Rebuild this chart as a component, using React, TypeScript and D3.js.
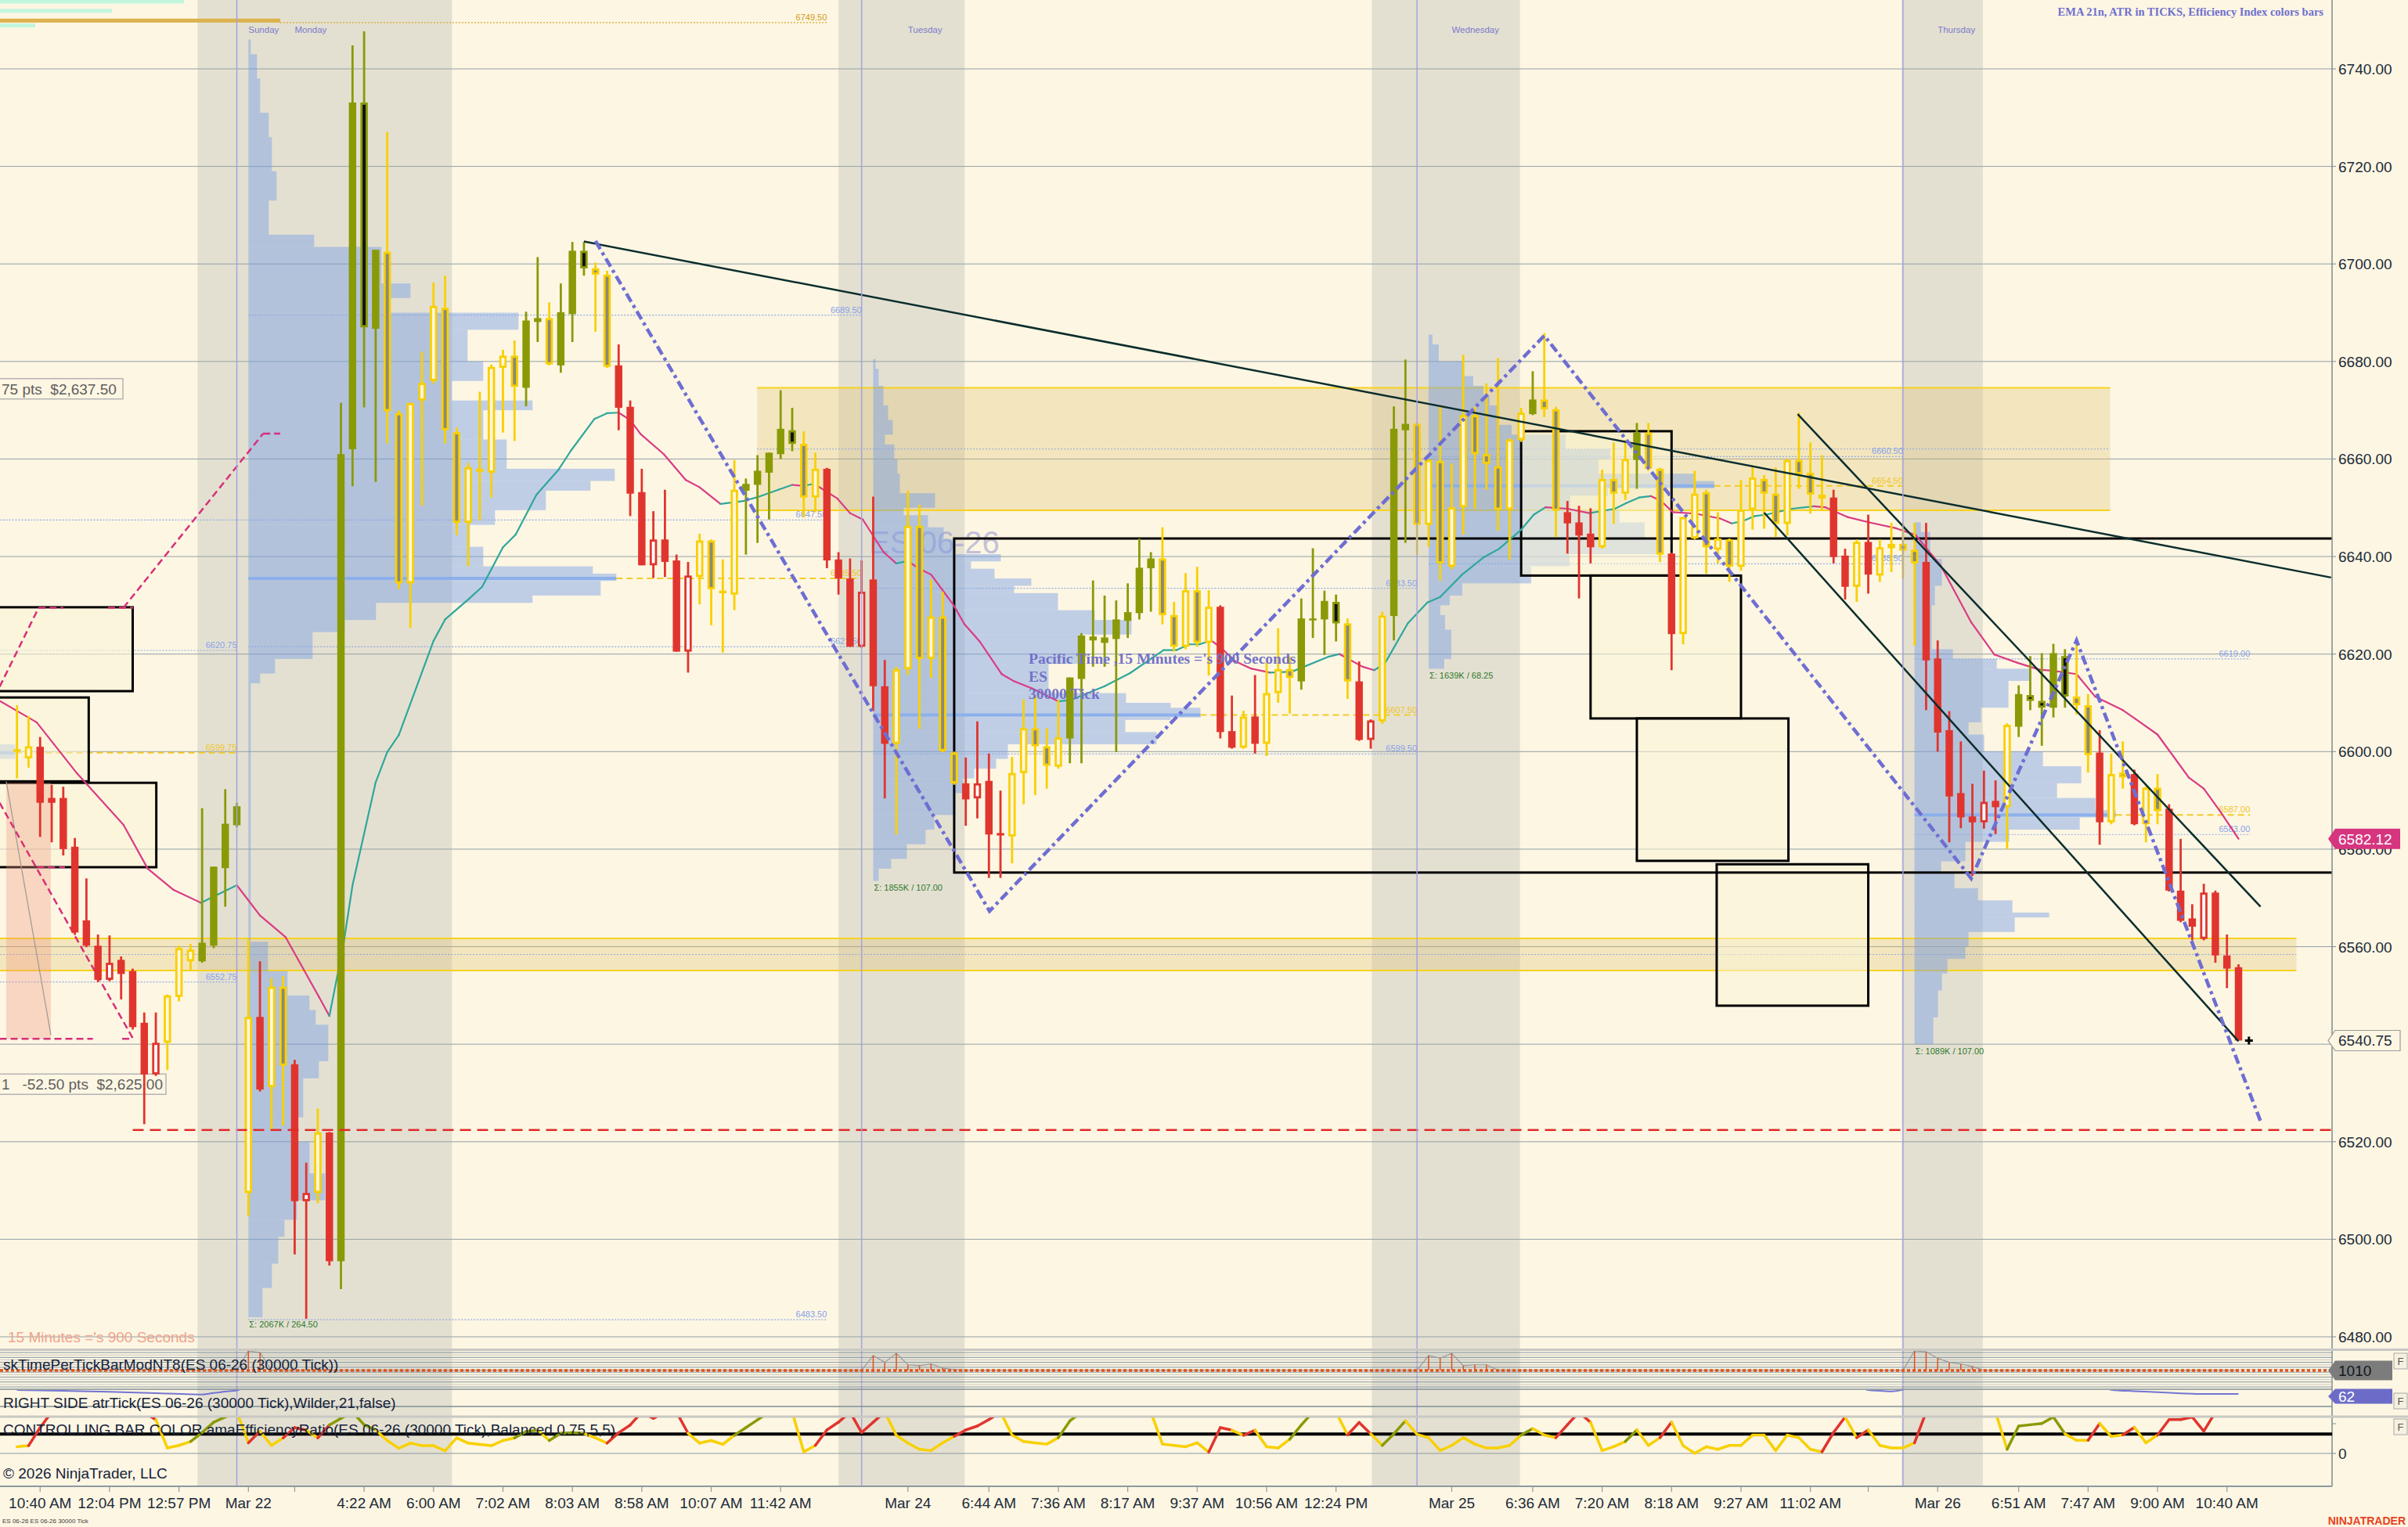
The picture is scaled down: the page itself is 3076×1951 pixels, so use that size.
import React, { useEffect, useRef } from 'react';
import * as d3 from 'd3';

const WIDTH = 3076;
const HEIGHT = 1951;
const SANS = '"Liberation Sans", Arial, sans-serif';
const SERIF = '"Liberation Serif", "Times New Roman", serif';

// ES 06-26, 30000 tick bars: [open, high, low, close]
const ohlc = [
  [6600, 6609.5, 6594.5, 6600.5], [6598.6, 6607.3, 6596.7, 6601.1], [6601, 6603, 6582.5, 6589.5], [6590.5, 6593.2, 6581.4, 6589.5], [6590.5, 6592.8, 6578.7, 6580],
  [6580.5, 6582.3, 6562.4, 6562.9], [6565.4, 6574, 6559.9, 6560.2], [6560.2, 6562.5, 6552.7, 6553.2], [6553.2, 6562.3, 6552.9, 6556.7], [6557.3, 6558, 6549.2, 6554.4],
  [6555, 6555.5, 6543, 6543.5], [6544.4, 6546.5, 6523.6, 6533.8], [6533.8, 6546.5, 6533.5, 6540.3], [6540.3, 6550.2, 6534.7, 6550], [6549.7, 6560.2, 6548.8, 6559.7],
  [6557, 6560.6, 6555, 6559.4], [6557, 6588.4, 6556.7, 6560.8], [6560.2, 6576.4, 6559.7, 6576.4], [6576.1, 6592.3, 6568.2, 6585.2], [6584.9, 6589.5, 6584.5, 6588.8],
  [6509.5, 6561.5, 6504.8, 6545.6], [6545.6, 6557, 6530.3, 6530.7], [6531.2, 6553.6, 6522.4, 6551.8], [6551.8, 6554, 6523.3, 6535.6], [6535.9, 6536.8, 6496.9, 6507.8],
  [6507.8, 6515.7, 6483.7, 6509.5], [6509.5, 6526.8, 6507.4, 6521.9], [6521.9, 6522, 6494.6, 6495.5], [6495.5, 6671.5, 6489.8, 6661], [6662, 6744.8, 6654.4, 6733.1],
  [6733.1, 6747.7, 6670.6, 6687], [6686.7, 6702.9, 6655.3, 6702.9], [6702.5, 6727.1, 6663.2, 6669.8], [6669.4, 6670, 6633.3, 6634.5], [6634.5, 6671.5, 6625.4, 6671.5],
  [6672, 6682, 6650.4, 6675.6], [6676, 6696.2, 6675.5, 6691.4], [6691, 6697.6, 6663.2, 6665.9], [6665.5, 6666.5, 6644.4, 6646.9], [6646.9, 6659.2, 6638, 6658.3],
  [6657.4, 6673.8, 6647.4, 6658], [6657.2, 6679.4, 6652.1, 6678.9], [6678.7, 6682.4, 6665.4, 6681.2], [6681.2, 6684.3, 6663.7, 6674.8], [6674.6, 6690.2, 6670.8, 6688.4],
  [6688.1, 6701.4, 6684, 6688.9], [6688.9, 6692.1, 6679.2, 6679.4], [6679.2, 6696, 6677.7, 6690.1], [6689.7, 6704.5, 6684, 6702.7], [6702.7, 6704.5, 6697.6, 6699.1],
  [6699.1, 6700.3, 6686.1, 6697.8], [6697.8, 6698.6, 6678.7, 6678.9], [6679.2, 6683.5, 6665.9, 6670.5], [6670.7, 6672, 6648.3, 6652.9], [6653.2, 6658, 6638.2, 6638.2],
  [6638.2, 6649.3, 6635.6, 6643.5], [6643.5, 6653.7, 6635.8, 6638.9], [6639.2, 6640.4, 6620.5, 6620.5], [6620.5, 6638.9, 6616.2, 6636.1], [6635.8, 6644.7, 6630.2, 6643.3],
  [6643.3, 6643.5, 6625.9, 6633.3], [6633, 6639.4, 6620.3, 6632.6], [6632.2, 6659.8, 6629, 6653.7], [6653.5, 6656, 6640.4, 6654.9], [6654.7, 6660.8, 6642.8, 6657.6],
  [6657.2, 6661.3, 6647.6, 6661.3], [6661, 6674.1, 6660, 6666.2], [6665.9, 6670.5, 6661.6, 6663.1], [6663.1, 6665.7, 6648.1, 6652.1], [6652.1, 6661.3, 6649.1, 6658],
  [6658, 6658.2, 6637.6, 6639.2], [6639.4, 6640.9, 6632.2, 6635.5], [6635.5, 6639.6, 6621.5, 6621.5], [6621.5, 6639.2, 6621.3, 6632.8], [6635.3, 6652.3, 6608.3, 6613.4],
  [6613.4, 6618.8, 6590.4, 6601.6], [6601.6, 6617.4, 6583, 6616.9], [6616.9, 6653.5, 6615.7, 6646.3], [6646.3, 6650.6, 6604.7, 6619], [6619, 6635.3, 6615.1, 6627.7],
  [6627.7, 6632.8, 6599.9, 6600.1], [6599.8, 6600, 6593.2, 6593.5], [6593.5, 6598.8, 6584.8, 6590.2], [6590.4, 6606.2, 6586.3, 6593.5], [6594, 6599.6, 6574.1, 6583],
  [6583.3, 6592, 6574.1, 6582.8], [6582.6, 6598.9, 6577.1, 6595.6], [6595.6, 6610.7, 6589.2, 6604.8], [6604.8, 6611.5, 6591.1, 6601.1], [6601.1, 6604.8, 6592.4, 6597.1],
  [6596.9, 6610.6, 6596.5, 6602.9], [6602.7, 6615.2, 6597.6, 6615.2], [6614.9, 6624.3, 6597.6, 6623.8], [6623.6, 6635.1, 6617.4, 6622.8], [6622.3, 6632, 6617.4, 6623.4],
  [6623.1, 6631, 6599.9, 6627.1], [6626.8, 6634.5, 6623.3, 6628.6], [6628.4, 6643.7, 6627.1, 6637.7], [6637.6, 6640.9, 6628.7, 6639.6], [6639.6, 6646, 6626.1, 6628],
  [6628, 6630.7, 6620.5, 6621.5], [6621.5, 6636.6, 6621, 6633.1], [6633.1, 6637.9, 6621.5, 6622.3], [6622.3, 6633.1, 6615.6, 6629.7], [6629.7, 6630, 6602.7, 6604],
  [6604.2, 6611.5, 6600.6, 6600.8], [6600.8, 6608.4, 6600.6, 6607.2], [6607.2, 6615.7, 6599.6, 6601.6], [6601.6, 6618.5, 6599.1, 6612], [6612, 6625.3, 6610, 6616.9],
  [6616.9, 6619.5, 6607.8, 6615.1], [6614.4, 6631.4, 6612.7, 6627.3], [6626.9, 6641.7, 6623.3, 6627.3], [6627.1, 6633, 6619.8, 6630.9], [6630.7, 6632.2, 6622.6, 6626.3],
  [6626.3, 6627.3, 6610.8, 6614.4], [6614.4, 6618.5, 6602.2, 6602.4], [6602.4, 6606.6, 6600.6, 6606.4], [6606.2, 6628.7, 6605.7, 6627.9], [6627.8, 6670.8, 6622.8, 6666.2],
  [6665.9, 6680.4, 6642.8, 6667.2], [6667.2, 6667.5, 6640.4, 6646.5], [6646.5, 6660, 6642, 6659.8], [6659.6, 6670.7, 6635.1, 6638.6], [6637.9, 6659.1, 6637.4, 6650.1],
  [6650.1, 6681.4, 6644.5, 6669], [6669, 6670.7, 6649.8, 6661], [6661, 6675.5, 6653.7, 6659], [6658.5, 6680.7, 6645.3, 6649.6], [6649.6, 6664.2, 6639.4, 6664],
  [6663.9, 6670.5, 6663.5, 6669.5], [6669.2, 6678, 6669, 6672.2], [6672.2, 6685.8, 6668.6, 6670.2], [6670.2, 6670.7, 6644, 6649.4], [6649.1, 6651.4, 6640.6, 6646.8],
  [6647, 6650.4, 6631.4, 6644.3], [6644.7, 6649.9, 6638.6, 6641.9], [6641.9, 6657.8, 6641.6, 6655.9], [6655.9, 6663.4, 6646.7, 6652.9], [6652.9, 6663.9, 6651.6, 6660],
  [6659.8, 6667.4, 6653.9, 6665.4], [6665.4, 6667.4, 6657.6, 6658], [6658, 6658.2, 6638.9, 6640.4], [6640.6, 6640.8, 6616.7, 6624.1], [6624.1, 6648.1, 6622, 6648.1],
  [6643.7, 6657.6, 6643.5, 6652.9], [6653.2, 6653.7, 6636.5, 6641.9], [6641.4, 6649.1, 6638.6, 6643.7], [6643.5, 6643.7, 6634.8, 6637.9], [6637.9, 6655.7, 6637.1, 6649.6],
  [6649.6, 6658.3, 6645.5, 6656.2], [6655.9, 6656.7, 6645.7, 6652.9], [6652.9, 6658.3, 6644, 6646.7], [6646.7, 6660, 6644.3, 6659.8], [6659.8, 6669.5, 6653.9, 6656.9],
  [6657.2, 6663.4, 6648.8, 6652.7], [6652.7, 6660.8, 6649.4, 6651.9], [6652.1, 6653.7, 6638.6, 6639.9], [6640.2, 6641.6, 6631.2, 6633.8], [6633.8, 6643.5, 6630.7, 6643],
  [6643, 6648.6, 6632.4, 6636.3], [6636.1, 6643.5, 6634.8, 6641.9], [6641.7, 6646.9, 6636.8, 6642.6], [6642.6, 6646.9, 6635.5, 6641.2], [6641.4, 6646.9, 6621.7, 6638.6],
  [6638.9, 6646.9, 6608.5, 6618.7], [6619.1, 6622.8, 6600, 6603.9], [6604.4, 6608.3, 6581.4, 6590.8], [6591.5, 6602.1, 6584.3, 6586.5], [6586.7, 6593.4, 6574.5, 6585.5],
  [6585.5, 6596.1, 6584.2, 6589.7], [6589.9, 6594.1, 6583.1, 6588.6], [6588.6, 6605.8, 6580, 6605.5], [6605.1, 6613.6, 6603, 6611.8], [6611.6, 6619.6, 6608.5, 6610.4],
  [6610.4, 6620.2, 6601.2, 6609], [6609, 6622.1, 6607, 6620.2], [6619.6, 6621, 6609, 6611.3], [6611.3, 6622.1, 6607.6, 6609.5], [6609.5, 6611.8, 6595.7, 6599.3],
  [6599.8, 6604.4, 6580.9, 6585.5], [6585.5, 6599.6, 6585.1, 6595.4], [6595.7, 6602.1, 6592.4, 6594.7], [6595.4, 6596.3, 6584.9, 6585.1], [6585.1, 6592.9, 6581.4, 6592.6],
  [6592.6, 6595.4, 6585.1, 6587.8], [6588.3, 6589.2, 6571.3, 6571.5], [6571.5, 6582.1, 6565, 6565.3], [6565.8, 6568.7, 6561.3, 6564.1], [6561.6, 6572.9, 6561.3, 6571.1],
  [6571.1, 6571.5, 6556.7, 6558.2], [6558.2, 6562.5, 6551.5, 6555.5], [6555.8, 6556.4, 6540.9, 6540.75],
];

// efficiency index colour per bar: y = inefficient, g = efficient up, r = efficient down
const barColors = (
  'yyrrrrrrrr' + 'rrryyygggg' + 'yryyrryrgg' + 'ggyyyyyyyy' + 'yyyyggyggg' +
  'yyrrrrrrry' + 'yyygggggyy' + 'rrrrrryyyy' + 'yyrrrryyyy' + 'yggggggggy' +
  'yyyyrryryy' + 'yggggyrryg' + 'gyyyyyyyyy' + 'ygyyrrryyy' + 'gyyryyyyyy' +
  'yyyyyyyrry' + 'ryyyyrrrrr' + 'rrygggggyy' + 'ryyryyrrrr' + 'rrr'
).split('');

// amaEfficiencyRatio (panel values)
const effRatio = [
  0.26, 0.3, 1.0, 1.6, 1.6, 1.6, 1.6, 1.6, 1.6, 1.6,
  1.6, 1.6, 1.3, 0.21, 0.31, 0.46, 0.81, 1.21, 1.41, 1.6,
  0.41, 0.86, 0.31, 0.6, 1.0, 0.9, 0.6, 1.1, 1.36, 1.6,
  1.11, 0.91, 0.5, 0.2, 0.4, 0.3, 0.3, 0.1, 0.6, 0.4,
  0.35, 0.3, 0.5, 0.6, 0.85, 0.9, 0.5, 0.78, 0.8, 0.78,
  0.6, 0.4, 0.8, 1.1, 1.6, 1.36, 1.6, 1.6, 0.78, 0.4,
  0.5, 0.35, 0.7, 1.0, 1.3, 1.6, 1.6, 1.6, 0.06, 0.31,
  0.91, 1.21, 1.6, 0.81, 1.21, 1.6, 0.7, 0.4, 0.16, 0.11,
  0.41, 0.66, 0.91, 1.06, 1.31, 1.6, 0.71, 0.46, 0.41, 0.36,
  0.61, 1.26, 1.6, 1.6, 1.6, 1.6, 1.6, 1.6, 1.6, 0.36,
  0.31, 0.26, 0.41, 0.05, 1.0, 0.9, 0.7, 0.9, 0.26, 0.21,
  0.55, 1.1, 1.6, 1.6, 1.6, 0.72, 1.2, 0.76, 0.31, 0.76,
  1.26, 0.74, 0.61, 0.11, 0.31, 0.61, 0.36, 0.21, 0.21, 0.31,
  0.71, 0.96, 0.71, 0.61, 1.11, 1.6, 1.2, 0.11, 0.26, 0.46,
  0.91, 0.31, 0.61, 1.21, 0.3, 0.01, 0.26, 0.16, 0.31, 0.31,
  0.71, 0.71, 0.11, 0.71, 0.61, 0.16, 0.06, 0.81, 1.41, 0.61,
  0.91, 0.31, 0.21, 0.21, 0.41, 1.6, 1.6, 1.6, 1.6, 1.6,
  1.6, 1.6, 0.16, 1.06, 1.11, 1.16, 1.41, 0.76, 0.51, 0.51,
  1.16, 0.66, 0.72, 1.01, 0.41, 0.71, 1.31, 1.31, 1.41, 0.86,
  1.6, 1.6, 1.6,
];

// EMA 21, read at [bar, price]
const emaPoints = [
  [-0.5, 6610.4], [2.7, 6606], [6.2, 6595.5], [10.2, 6585], [12.3, 6576], [14.5, 6571.7], [16.9, 6569], [20, 6572.6],
  [22, 6566.4], [24.2, 6562], [27.1, 6549.7], [28, 6545.8], [29.2, 6560.2], [30, 6572.6], [32, 6593.7], [33, 6599.9],
  [34, 6603.4], [37, 6622.7], [38, 6627.1], [40.1, 6631.4], [41.2, 6633.8], [43, 6641.9], [44.1, 6644.5], [45.9, 6652.7],
  [47.8, 6657.8], [48.9, 6661.8], [50.9, 6668.2], [52, 6669.4], [53, 6669.5], [54, 6668], [54.9, 6665.1], [56.9, 6661],
  [58.8, 6655.7], [60, 6654.2], [61.8, 6650.8], [63.8, 6651.4], [64.9, 6652.1], [66.8, 6653.7], [68, 6654.7], [68.9, 6654.5],
  [69.9, 6654.9], [71.9, 6651.9], [73, 6648.9], [74.1, 6647.6], [75.9, 6640.9], [77, 6638.6], [78, 6639.1], [78.9, 6637.6],
  [80, 6636.3], [81.9, 6630.2], [82.9, 6626.1], [84.2, 6622.6], [86.1, 6615.9], [87.2, 6614.4], [88.8, 6612.9], [91, 6610.3],
  [92.1, 6610.6], [95, 6613.4], [97.2, 6616.1], [100.1, 6620.8], [101.2, 6620.8], [102.3, 6622], [103.2, 6622], [104.2, 6622.8],
  [105.2, 6621], [106.3, 6618.5], [107.7, 6617], [109.3, 6616.2], [111.2, 6616.4], [114.4, 6619.5], [115.3, 6620], [117.3, 6617.4],
  [118.3, 6616.7], [119.2, 6618], [121.2, 6626.3], [122.9, 6630.6], [124, 6631.7], [125.9, 6636.3], [127.8, 6639.9], [129.1, 6641.6],
  [131, 6645.5], [132.1, 6648.6], [133.1, 6650.1], [135, 6649.8], [136.9, 6648.9], [139.1, 6649.8], [140.2, 6651.1], [141.2, 6652.1],
  [142.2, 6652.4], [143.1, 6651.4], [144.1, 6649.1], [146.1, 6648.8], [148.2, 6647.8], [149.2, 6646.8], [150.2, 6647.3], [151.2, 6648.3],
  [152.2, 6648.6], [154.4, 6649.8], [156.3, 6650.3], [157.3, 6650.1], [159.2, 6648.1], [161.1, 6647], [163.4, 6645.8], [165.1, 6644.4],
  [167.3, 6638], [169.9, 6626.5], [171.9, 6619.9], [173.9, 6618.2], [175.8, 6616.8], [176.9, 6616.6], [179, 6615.9], [180.6, 6611.3],
  [183, 6608.5], [184.1, 6606.7], [186, 6603.5], [188.7, 6594.7], [190, 6592.4], [191.4, 6587.8], [193, 6582.12],
];

const priceTicks = [6480, 6500, 6520, 6540, 6560, 6580, 6600, 6620, 6640, 6660, 6680, 6700, 6720, 6740];

const timeTicks = [
  [3, '10:40 AM'], [9, '12:04 PM'], [15, '12:57 PM'], [21, 'Mar 22'], [25, ''], [31, '4:22 AM'], [37, '6:00 AM'],
  [43, '7:02 AM'], [49, '8:03 AM'], [55, '8:58 AM'], [61, '10:07 AM'], [67, '11:42 AM'], [78, 'Mar 24'], [85, '6:44 AM'],
  [91, '7:36 AM'], [97, '8:17 AM'], [103, '9:37 AM'], [109, '10:56 AM'], [115, '12:24 PM'], [125, 'Mar 25'], [132, '6:36 AM'],
  [138, '7:20 AM'], [144, '8:18 AM'], [150, '9:27 AM'], [156, '11:02 AM'], [161, ''], [167, 'Mar 26'], [174, '6:51 AM'],
  [180, '7:47 AM'], [186, '9:00 AM'], [192, '10:40 AM'],
];

const sessionBands = [[16.6, 38.6], [72, 82.9], [118.1, 130.9], [163.9, 170.9]];
const sessionBreaks = [20, 74, 122, 164];
const dayLabels = [[21, 'Sunday'], [25, 'Monday'], [78, 'Tuesday'], [125, 'Wednesday'], [167, 'Thursday']];

// volume profiles: [low, high, volume]
const profFri = [[6598.5, 6601.5, 20]];
const profMon = [
  [6743, 6746, 3], [6738, 6743, 11], [6731, 6738, 15], [6726, 6731, 26], [6719, 6726, 30], [6713, 6719, 36], [6706, 6713, 26],
  [6703.5, 6706, 84], [6696, 6703.5, 170], [6693, 6696, 207], [6690, 6693, 175], [6686.5, 6690, 345], [6680, 6686.5, 280],
  [6676, 6680, 300], [6672, 6676, 260], [6670, 6672, 363], [6664, 6670, 300], [6658, 6664, 330], [6655.5, 6658, 468],
  [6653.5, 6655.5, 437], [6649.5, 6653.5, 380], [6646.5, 6649.5, 315], [6642, 6646.5, 283], [6638, 6642, 300], [6636.5, 6638, 440],
  [6635, 6636.5, 470], [6632, 6635, 450], [6630.5, 6632, 363], [6627, 6630.5, 163], [6624.5, 6627, 123], [6619, 6624.5, 82],
  [6616, 6619, 34], [6614, 6616, 15], [6561, 6614, 3], [6555, 6561, 25], [6550, 6555, 50], [6547, 6550, 78], [6544, 6547, 86],
  [6536.5, 6544, 102], [6533, 6536.5, 90], [6525, 6533, 70], [6520, 6525, 58], [6513.5, 6520, 78], [6508, 6513.5, 98],
  [6504, 6508, 62], [6500.5, 6504, 46], [6495, 6500.5, 38], [6490, 6495, 30], [6484, 6490, 18],
];
const profTue = [
  [6678.5, 6680.5, 3], [6675, 6678.5, 7], [6671, 6675, 13], [6668, 6671, 19], [6665, 6668, 25], [6663, 6665, 15], [6660, 6663, 27],
  [6657, 6660, 31], [6653, 6657, 34], [6650, 6653, 79], [6648.5, 6650, 39], [6646, 6648.5, 70], [6643.5, 6646, 90], [6640.5, 6643.5, 105],
  [6639, 6640.5, 163], [6637.5, 6639, 125], [6635.5, 6637.5, 155], [6634, 6635.5, 202], [6632.5, 6634, 180], [6629, 6632.5, 236],
  [6627, 6629, 283], [6624, 6627, 330], [6618, 6624, 265], [6612, 6618, 224], [6610, 6612, 323], [6609, 6610, 380], [6607, 6609, 418],
  [6606.5, 6607, 380], [6604, 6606.5, 322], [6601.5, 6604, 362], [6598.5, 6601.5, 172], [6596.5, 6598.5, 157], [6594.5, 6596.5, 129],
  [6591.5, 6594.5, 115], [6587, 6591.5, 105], [6584, 6587, 78], [6581, 6584, 67], [6578, 6581, 43], [6576, 6578, 23], [6573.5, 6576, 7],
];
const profWed = [
  [6683.5, 6685.5, 5], [6680, 6683.5, 13], [6677, 6680, 45], [6675, 6677, 57], [6673, 6675, 70], [6671, 6673, 78], [6667, 6671, 90],
  [6665, 6667, 106], [6662, 6665, 175], [6660, 6662, 232], [6657, 6660, 217], [6655.5, 6657, 339], [6654, 6655.5, 365],
  [6652.5, 6654, 229], [6649.5, 6652.5, 181], [6647, 6649.5, 244], [6643.5, 6647, 276], [6640.5, 6643.5, 300], [6638, 6640.5, 180],
  [6634.5, 6638, 131], [6632, 6634.5, 43], [6630, 6632, 27], [6628, 6630, 15], [6625, 6628, 21], [6622, 6625, 29], [6619, 6622, 29],
  [6617, 6619, 20],
];
const profThu = [
  [6645, 6647, 8], [6639.5, 6645, 20], [6634, 6639.5, 35], [6630, 6634, 26], [6621, 6630, 22], [6619, 6621, 49], [6617, 6619, 105],
  [6614.5, 6617, 148], [6609, 6614.5, 120], [6606, 6609, 85], [6603.5, 6606, 69], [6600, 6603.5, 89], [6597, 6600, 164],
  [6593.5, 6597, 213], [6590.5, 6593.5, 182], [6588, 6590.5, 231], [6586.5, 6588, 257], [6584, 6586.5, 211], [6581.5, 6584, 121],
  [6577.5, 6581.5, 65], [6575, 6577.5, 34], [6572, 6575, 51], [6569.5, 6572, 81], [6567, 6569.5, 125], [6566, 6567, 172],
  [6563, 6566, 128], [6560, 6563, 69], [6557.5, 6560, 65], [6554.5, 6557.5, 42], [6551, 6554.5, 35], [6545.5, 6551, 30], [6540, 6545.5, 24],
];

const sessions = [
  { start: -0.5, end: 20, vah: 6620.75, poc: 6599.75, val: 6552.75, pocVol: 20, profile: profFri, sigma: '' },
  { start: 21, end: 74, vah: 6689.5, poc: 6635.5, val: 6621.5, pocVol: 470, profile: profMon, sigma: 'Σ: 2067K / 264.50' },
  { start: 75, end: 122, vah: 6633.5, poc: 6607.5, val: 6599.5, pocVol: 418, profile: profTue, sigma: 'Σ: 1855K / 107.00' },
  { start: 123, end: 164, vah: 6660.5, poc: 6654.5, val: 6638.5, pocVol: 365, profile: profWed, sigma: 'Σ: 1639K / 68.25' },
  { start: 165, end: 194, vah: 6619, poc: 6587, val: 6583, pocVol: 257, profile: profThu, sigma: 'Σ: 1089K / 107.00' },
];

// session extremes with labels: [price, fromBar, toBar, kind]
const extraLevels = [[6749.5, 23.75, 71, 'gold'], [6647.5, -0.5, 71, 'blue'], [6483.5, 21, 71, 'blue']];
// older profile rows at the very top: [low, high, volume, kind]
const topRows = [[6753.4, 6754.3, 235, 'mint'], [6751.5, 6752.3, 143, 'mint'], [6749.5, 6750.3, 358, 'gold'], [6748.5, 6749.3, 45, 'mint']];

// supply / demand zones: [fromBar, toBar, low, high]
const zones = [[64.96, 181.9, 6649.5, 6674.6], [-1, 198, 6555.1, 6561.7]];
// drawn rectangles: [fromBar, toBar, low, high]
const boxes = [
  [-1, 11.0, 6612.4, 6629.6], [-1, 7.2, 6593.9, 6611.1], [-1, 13.04, 6576.3, 6593.6],
  [131.0, 144.0, 6636.1, 6665.7], [137.0, 150.0, 6606.8, 6636.1], [141.0, 154.1, 6577.6, 6606.8], [147.9, 161.0, 6547.9, 6576.9],
];
const bigBox = [82.0, 210, 6575.2, 6643.7];
// trend lines: [bar1, price1, bar2, price2]
const trendLines = [[50.0, 6704.6, 201.0, 6635.7], [154.9, 6669.2, 194.9, 6568.2], [152.0, 6649.0, 193.0, 6540.6]];
const zigzag = [[51.0, 6704.7], [85.05, 6567.3], [133, 6685.3], [169.9, 6574.0], [179.0, 6622.8], [195.0, 6523.6]];
const stopLine = { from: 11, price: 6522.4 };
// trade markers
const tradeDashes = [
  [[-0.5, 6613.3], [2.87, 6629.5]], [[2.87, 6629.5], [5.0, 6629.5]], [[8.87, 6629.5], [11.04, 6629.5]],
  [[10.2, 6629.5], [22.27, 6665.2]], [[22.27, 6665.2], [23.75, 6665.2]],
  [[-0.5, 6589.5], [11.04, 6541.1]], [[2.74, 6576.3], [5.15, 6576.3]], [[-0.5, 6541.1], [7.56, 6541.1]], [[10.09, 6541.1], [11.04, 6541.1]],
];
const tradeArea = [0.07, 3.93, 6541.1, 6593.6];
const tradeLink = [[0.07, 6593.9], [3.93, 6541.9]];
const tradeLabels = [[6674.4, '75 pts  $2,637.50', 157], [6531.8, '1   -52.50 pts  $2,625.00', 212]];

// skTimePerTick peaks [bar, value]; other bars sit on the baseline value
const tickTimeBase = 1010;
const tickTimePeaks = [
  [21, 2200], [22, 2100], [75, 1915], [76, 1500], [77, 2050], [78, 1350], [79, 1300], [80, 1400], [81, 1150], [82, 1050],
  [123, 1915], [124, 1750], [125, 2050], [126, 1300], [127, 1350], [128, 1350],
  [165, 2200], [166, 2150], [167, 1750], [168, 1500], [169, 1400], [170, 1250],
];
// atrTick visible pieces [bar, ticks]
const atrSegments = [
  [[1, 64.2], [5, 63.8], [9, 63.3], [13, 62.5], [16, 61.8], [17, 61.7], [18, 62.6], [19, 63.4], [20, 64], [21, 68]],
  [[160, 68], [161, 64.2], [162, 63.8], [163, 63.5], [164, 64.4], [165, 68]],
  [[181, 68], [182, 64.4], [184, 63.6], [186, 63], [188, 62.4], [190, 62], [193, 62]],
];

const App = () => {
  const ref = useRef<SVGSVGElement | null>(null);

  useEffect(() => {
    document.body.style.margin = '0';
    const svg = d3.select(ref.current);
    svg.selectAll('*').remove();

    const chartRight = 2979;
    const mainBottom = 1723;
    const axisY = 1899;

    const x = d3.scaleLinear().domain([1, ohlc.length]).range([21.7, 2859.5]);
    const y = d3.scaleLinear().domain([6480, 6740]).range([1708, 88]);
    const vol = d3.scaleLinear().domain([0, 100]).range([0, 100]);
    const step = x(2) - x(1);
    const bodyW = step * 0.64;

    const colorOf = { y: '#f8d000', g: '#8a9a06', r: '#e0352e' };
    const cream = '#fdf6e3';

    const defs = svg.append('defs');
    const clip = (id, cx, cy, w, h) => defs.append('clipPath').attr('id', id).append('rect').attr('x', cx).attr('y', cy).attr('width', w).attr('height', h);
    clip('mainClip', 0, 0, chartRight, mainBottom);
    clip('p1Clip', 0, 1726, chartRight, 48);
    clip('p2Clip', 0, 1776, chartRight, 33);
    clip('p3Clip', 0, 1811, chartRight, 88);

    svg.append('rect').attr('width', WIDTH).attr('height', HEIGHT).attr('fill', cream);

    // session shading + breaks
    sessionBands.forEach(([a, b]) => {
      svg.append('rect').attr('x', x(a)).attr('y', 0).attr('width', x(b) - x(a)).attr('height', axisY).attr('fill', '#e4e0d1');
    });

    const g = svg.append('g').attr('clip-path', 'url(#mainClip)');

    priceTicks.forEach((p) => {
      g.append('line').attr('x1', 0).attr('x2', chartRight).attr('y1', y(p)).attr('y2', y(p)).attr('stroke', '#93a1a6').attr('stroke-width', 1);
    });

    // zones
    zones.forEach(([a, b, lo, hi]) => {
      g.append('rect').attr('x', x(a)).attr('y', y(hi)).attr('width', x(b) - x(a)).attr('height', y(lo) - y(hi)).attr('fill', 'rgba(222,192,110,0.30)');
      [lo, hi].forEach((p) => g.append('line').attr('x1', x(a)).attr('x2', x(b)).attr('y1', y(p)).attr('y2', y(p)).attr('stroke', '#f6d21e').attr('stroke-width', 2));
      const mid = (lo + hi) / 2;
      g.append('line').attr('x1', x(a)).attr('x2', x(b)).attr('y1', y(mid)).attr('y2', y(mid)).attr('stroke', '#8fa6dc').attr('stroke-width', 1).attr('stroke-dasharray', '2 2');
    });

    // watermark
    g.append('text').attr('x', 1110).attr('y', 707).attr('font-family', SANS).attr('font-size', 40).attr('fill', '#9d9dd2').attr('opacity', 0.6).text('ES 06-26');

    // top rows of an older profile
    topRows.forEach(([lo, hi, v, kind]) => {
      g.append('rect').attr('x', 0).attr('y', y(hi)).attr('width', vol(v)).attr('height', y(lo) - y(hi)).attr('fill', kind === 'gold' ? '#dcb24c' : '#c1f6dd');
    });

    // volume profiles and their levels
    const levelLabel = (bar, price, text, color) => {
      g.append('text').attr('x', x(bar)).attr('y', y(price) - 3).attr('text-anchor', 'end').attr('font-family', SANS).attr('font-size', 11).attr('fill', color).text(text);
    };
    sessions.forEach((s) => {
      const x0 = x(s.start);
      s.profile.forEach(([lo, hi, v]) => {
        g.append('rect').attr('x', x0).attr('y', y(hi)).attr('width', vol(v)).attr('height', Math.max(1, y(lo) - y(hi))).attr('fill', 'rgba(118,158,230,0.45)');
      });
      [s.vah, s.val].forEach((p) => {
        g.append('line').attr('x1', x0).attr('x2', x(s.end)).attr('y1', y(p)).attr('y2', y(p)).attr('stroke', '#8eaae4').attr('stroke-width', 1.2).attr('stroke-dasharray', '2 2');
        levelLabel(s.end, p, p.toFixed(2), '#86a2ea');
      });
      g.append('line').attr('x1', x0).attr('x2', x0 + vol(s.pocVol)).attr('y1', y(s.poc)).attr('y2', y(s.poc)).attr('stroke', '#8cb0ec').attr('stroke-width', 4);
      g.append('line').attr('x1', x0 + vol(s.pocVol)).attr('x2', x(s.end)).attr('y1', y(s.poc)).attr('y2', y(s.poc)).attr('stroke', '#f4cc2a').attr('stroke-width', 2).attr('stroke-dasharray', '8 5');
      levelLabel(s.end, s.poc, s.poc.toFixed(2), '#efc52a');
      if (s.sigma) {
        const bottom = d3.min(s.profile, (d) => d[0]);
        g.append('text').attr('x', x0 + 1).attr('y', y(bottom) + 13).attr('font-family', SANS).attr('font-size', 11).attr('fill', '#2e7a2e').text(s.sigma);
      }
    });
    extraLevels.forEach(([p, a, b, kind]) => {
      const c = kind === 'gold' ? '#d8a626' : '#8eaae4';
      g.append('line').attr('x1', x(a)).attr('x2', x(b)).attr('y1', y(p)).attr('y2', y(p)).attr('stroke', c).attr('stroke-width', 1.2).attr('stroke-dasharray', '2 2');
      levelLabel(b, p, p.toFixed(2), kind === 'gold' ? '#d09a20' : '#86a2ea');
    });

    // rectangles
    boxes.forEach(([a, b, lo, hi]) => {
      g.append('rect').attr('x', x(a)).attr('y', y(hi)).attr('width', x(b) - x(a)).attr('height', y(lo) - y(hi))
        .attr('fill', 'rgba(250,244,214,0.55)').attr('stroke', '#000').attr('stroke-width', 3);
    });
    g.append('rect').attr('x', x(bigBox[0])).attr('y', y(bigBox[3])).attr('width', x(bigBox[1]) - x(bigBox[0])).attr('height', y(bigBox[2]) - y(bigBox[3]))
      .attr('fill', 'none').attr('stroke', '#000').attr('stroke-width', 3);

    // trade markers
    g.append('rect').attr('x', x(tradeArea[0])).attr('y', y(tradeArea[3])).attr('width', x(tradeArea[1]) - x(tradeArea[0])).attr('height', y(tradeArea[2]) - y(tradeArea[3]))
      .attr('fill', 'rgba(240,150,125,0.33)');
    g.append('line').attr('x1', x(tradeLink[0][0])).attr('y1', y(tradeLink[0][1])).attr('x2', x(tradeLink[1][0])).attr('y2', y(tradeLink[1][1])).attr('stroke', '#a09890').attr('stroke-width', 1.2);
    tradeDashes.forEach(([p1, p2]) => {
      g.append('line').attr('x1', x(p1[0])).attr('y1', y(p1[1])).attr('x2', x(p2[0])).attr('y2', y(p2[1]))
        .attr('stroke', '#d63078').attr('stroke-width', 2.5).attr('stroke-dasharray', '9 5');
    });
    tradeLabels.forEach(([p, text, w]) => {
      g.append('rect').attr('x', -2).attr('y', y(p) - 13).attr('width', w + 2).attr('height', 26).attr('fill', cream).attr('stroke', '#b4b4b4').attr('stroke-width', 1.5);
      g.append('text').attr('x', 2).attr('y', y(p) + 7).attr('font-family', SANS).attr('font-size', 19).attr('fill', '#5e5e5e').style('white-space', 'pre').text(text);
    });

    // session breaks
    sessionBreaks.forEach((b) => {
      svg.append('line').attr('x1', x(b)).attr('x2', x(b)).attr('y1', 0).attr('y2', axisY).attr('stroke', '#a4a4dc').attr('stroke-width', 1.5);
    });
    dayLabels.forEach(([b, t]) => {
      g.append('text').attr('x', x(b)).attr('y', 42).attr('font-family', SANS).attr('font-size', 11.5).attr('fill', '#7a7acc').text(t);
    });

    // EMA 21, teal rising / pink falling
    for (let i = 1; i < emaPoints.length; i++) {
      const [b0, v0] = emaPoints[i - 1];
      const [b1, v1] = emaPoints[i];
      g.append('line').attr('x1', x(b0)).attr('y1', y(v0)).attr('x2', x(b1)).attr('y2', y(v1))
        .attr('stroke', v1 >= v0 ? '#2ea79b' : '#d93c84').attr('stroke-width', 2.2).attr('stroke-linecap', 'round');
    }

    // candles
    ohlc.forEach(([o, h, l, c], i) => {
      const k = barColors[i];
      const col = colorOf[k];
      const cx = x(i + 1);
      g.append('line').attr('x1', cx).attr('x2', cx).attr('y1', y(h)).attr('y2', y(l)).attr('stroke', col).attr('stroke-width', 2.8);
      const up = c >= o;
      const top = y(Math.max(o, c));
      const bh = Math.max(2.5, y(Math.min(o, c)) - top);
      const solid = (k === 'r' && !up) || (k === 'g' && up);
      if (solid) {
        g.append('rect').attr('x', cx - bodyW / 2).attr('y', top).attr('width', bodyW).attr('height', bh).attr('fill', col);
      } else {
        const inner = k === 'y' ? (up ? cream : '#8b8977') : k === 'g' ? '#111' : '#ffffff';
        const sw = 2.8;
        g.append('rect').attr('x', cx - bodyW / 2 + sw / 2).attr('y', top + sw / 2).attr('width', bodyW - sw).attr('height', Math.max(0.5, bh - sw))
          .attr('fill', inner).attr('stroke', col).attr('stroke-width', sw);
      }
    });

    // trend lines
    trendLines.forEach(([b1, p1, b2, p2]) => {
      g.append('line').attr('x1', x(b1)).attr('y1', y(p1)).attr('x2', x(b2)).attr('y2', y(p2)).attr('stroke', '#0b2d2d').attr('stroke-width', 2.5);
    });
    g.append('path').attr('d', d3.line()(zigzag.map(([b, p]) => [x(b), y(p)])))
      .attr('fill', 'none').attr('stroke', '#6e6ed2').attr('stroke-width', 4.5).attr('stroke-dasharray', '12 5 4 5');
    g.append('line').attr('x1', x(stopLine.from)).attr('x2', chartRight).attr('y1', y(stopLine.price)).attr('y2', y(stopLine.price))
      .attr('stroke', '#e02a2a').attr('stroke-width', 2.5).attr('stroke-dasharray', '14 8');

    // cursor cross
    const last = ohlc[ohlc.length - 1];
    const crossX = x(ohlc.length + 0.9);
    g.append('path').attr('d', `M${crossX - 5},${y(last[3])}h10M${crossX},${y(last[3]) - 5}v10`).attr('stroke', '#000').attr('stroke-width', 3);

    // captions
    svg.append('text').attr('x', 2968).attr('y', 20).attr('text-anchor', 'end').attr('font-family', SERIF).attr('font-weight', 'bold').attr('font-size', 14.5).attr('fill', '#6f6fd0')
      .text('EMA 21n, ATR in TICKS, Efficiency Index colors bars');
    ['Pacific Time ,15 Minutes =\'s 900 Seconds', 'ES', '30000 Tick'].forEach((t, i) => {
      g.append('text').attr('x', 1314).attr('y', 848 + i * 22.5).attr('font-family', SERIF).attr('font-weight', 'bold').attr('font-size', 19.5).attr('fill', '#7272c8').text(t);
    });
    g.append('text').attr('x', 10).attr('y', 1715).attr('font-family', SANS).attr('font-size', 19).attr('fill', '#f0a48c').text('15 Minutes =\'s 900 Seconds');

    // right price axis
    svg.append('line').attr('x1', chartRight).attr('x2', chartRight).attr('y1', 0).attr('y2', axisY).attr('stroke', '#7d8b90').attr('stroke-width', 1.5);
    priceTicks.forEach((p) => {
      svg.append('line').attr('x1', chartRight).attr('x2', chartRight + 5).attr('y1', y(p)).attr('y2', y(p)).attr('stroke', '#7d8b90');
      svg.append('text').attr('x', 2987).attr('y', y(p) + 7).attr('font-family', SANS).attr('font-size', 19).attr('fill', '#1b2a38').text(p.toFixed(2));
    });
    const tag = (cy, h, fill, stroke, text, textFill) => {
      svg.append('path').attr('d', `M${chartRight - 5},${cy}L${chartRight + 4},${cy - h / 2}H${WIDTH - 10}V${cy + h / 2}H${chartRight + 4}Z`)
        .attr('fill', fill).attr('stroke', stroke).attr('stroke-width', 1.2);
      svg.append('text').attr('x', 2987).attr('y', cy + 7).attr('font-family', SANS).attr('font-size', 19).attr('fill', textFill).text(text);
    };
    tag(y(emaPoints[emaPoints.length - 1][1]), 26, '#d6357f', 'none', emaPoints[emaPoints.length - 1][1].toFixed(2), '#ffffff');
    tag(y(last[3]), 26, cream, '#9a9a9a', last[3].toFixed(2), '#1b2a38');

    // panel 1: skTimePerTickBarModNT8
    const tScale = d3.scaleLinear().domain([0, 2200]).range([1772, 1726]);
    const p1 = svg.append('g').attr('clip-path', 'url(#p1Clip)');
    d3.range(0, 2201, 150).forEach((v, i) => {
      p1.append('line').attr('x1', 0).attr('x2', chartRight).attr('y1', tScale(v)).attr('y2', tScale(v)).attr('stroke', i % 2 ? '#c6c7c3' : '#8396a0').attr('stroke-width', 1);
    });
    const peakMap = new Map(tickTimePeaks.map(([b, v]) => [b, v]));
    const tickTime = ohlc.map((_, i) => peakMap.get(i + 1) ?? tickTimeBase);
    p1.append('path').attr('d', d3.line()(tickTime.map((v, i) => [x(i + 1), tScale(v)]))).attr('fill', 'none').attr('stroke', '#9a9a9a').attr('stroke-width', 1.2);
    tickTimePeaks.forEach(([b, v]) => {
      p1.append('line').attr('x1', x(b)).attr('x2', x(b)).attr('y1', tScale(tickTimeBase)).attr('y2', tScale(v)).attr('stroke', '#de5020').attr('stroke-width', 1.5);
    });
    p1.append('line').attr('x1', 0).attr('x2', chartRight).attr('y1', tScale(tickTimeBase)).attr('y2', tScale(tickTimeBase))
      .attr('stroke', '#e0541c').attr('stroke-width', 3.5).attr('stroke-dasharray', '4 3');
    svg.append('line').attr('x1', 0).attr('x2', WIDTH).attr('y1', 1724.5).attr('y2', 1724.5).attr('stroke', '#c8c8c4').attr('stroke-width', 3);
    svg.append('line').attr('x1', 0).attr('x2', chartRight).attr('y1', 1775).attr('y2', 1775).attr('stroke', '#7f8f96').attr('stroke-width', 1.5);

    // panel 2: atrTick
    const aScale = d3.scaleLinear().domain([55, 66]).range([1797, 1772]);
    const p2 = svg.append('g').attr('clip-path', 'url(#p2Clip)');
    p2.append('line').attr('x1', 0).attr('x2', chartRight).attr('y1', aScale(55)).attr('y2', aScale(55)).attr('stroke', '#7f8f96').attr('stroke-width', 1.5);
    atrSegments.forEach((seg) => {
      p2.append('path').attr('d', d3.line().curve(d3.curveMonotoneX)(seg.map(([b, v]) => [x(b), aScale(v)])))
        .attr('fill', 'none').attr('stroke', '#7474d4').attr('stroke-width', 2);
    });
    svg.append('line').attr('x1', 0).attr('x2', WIDTH).attr('y1', 1810).attr('y2', 1810).attr('stroke', '#c8c8c4').attr('stroke-width', 3);

    // panel 3: efficiency ratio
    const eScale = d3.scaleLinear().domain([0, 1]).range([1857, 1824]);
    const p3 = svg.append('g').attr('clip-path', 'url(#p3Clip)');
    p3.append('line').attr('x1', 0).attr('x2', chartRight).attr('y1', eScale(0)).attr('y2', eScale(0)).attr('stroke', '#8a9aa0').attr('stroke-width', 1.2);
    p3.append('line').attr('x1', 0).attr('x2', chartRight).attr('y1', eScale(0.75)).attr('y2', eScale(0.75)).attr('stroke', '#000').attr('stroke-width', 4);
    for (let i = 1; i < effRatio.length; i++) {
      p3.append('line').attr('x1', x(i)).attr('y1', eScale(effRatio[i - 1])).attr('x2', x(i + 1)).attr('y2', eScale(effRatio[i]))
        .attr('stroke', colorOf[barColors[i]]).attr('stroke-width', 3.5).attr('stroke-linecap', 'round');
    }
    svg.append('line').attr('x1', chartRight).attr('x2', chartRight + 5).attr('y1', 1819).attr('y2', 1819).attr('stroke', '#7d8b90');
    svg.append('line').attr('x1', chartRight).attr('x2', chartRight + 5).attr('y1', eScale(0)).attr('y2', eScale(0)).attr('stroke', '#7d8b90');
    svg.append('text').attr('x', 2987).attr('y', eScale(0) + 7).attr('font-family', SANS).attr('font-size', 19).attr('fill', '#1b2a38').text('0');

    // indicator tags and buttons
    const boxTag = (cy, h, fill, text, textFill) => {
      svg.append('path').attr('d', `M${chartRight - 5},${cy}L${chartRight + 4},${cy - h / 2}H${3056}V${cy + h / 2}H${chartRight + 4}Z`).attr('fill', fill);
      svg.append('text').attr('x', 2987).attr('y', cy + 7).attr('font-family', SANS).attr('font-size', 19).attr('fill', textFill).text(text);
    };
    boxTag(tScale(tickTimeBase), 25, '#7c7c7c', String(tickTimeBase), '#101820');
    boxTag(aScale(62) + 3, 19, '#6c6cc8', '62', '#ffffff');
    [1739, 1790, 1823].forEach((cy) => {
      svg.append('rect').attr('x', 3058).attr('y', cy - 10).attr('width', 17).attr('height', 20).attr('fill', '#f6f1df').attr('stroke', '#a8a8a8');
      svg.append('text').attr('x', 3066.5).attr('y', cy + 5).attr('text-anchor', 'middle').attr('font-family', SANS).attr('font-size', 13).attr('fill', '#555').text('F');
    });

    // panel titles
    [[1750, 'skTimePerTickBarModNT8(ES 06-26 (30000 Tick))'], [1799, 'RIGHT SIDE atrTick(ES 06-26 (30000 Tick),Wilder,21,false)'],
      [1833, 'CONTROLLING BAR COLOR amaEfficiencyRatio(ES 06-26 (30000 Tick),Balanced,0.75,5,5)'], [1889, '© 2026 NinjaTrader, LLC']].forEach(([ty, t]) => {
      svg.append('text').attr('x', 4).attr('y', ty).attr('font-family', SANS).attr('font-size', 19).attr('fill', '#15223a').text(t);
    });

    // time axis
    svg.append('line').attr('x1', 0).attr('x2', chartRight).attr('y1', axisY).attr('y2', axisY).attr('stroke', '#8a9aa0').attr('stroke-width', 2);
    timeTicks.forEach(([b, t]) => {
      svg.append('line').attr('x1', x(b)).attr('x2', x(b)).attr('y1', axisY).attr('y2', axisY + 7).attr('stroke', '#8a9aa0').attr('stroke-width', 1.2);
      if (t) svg.append('text').attr('x', x(b)).attr('y', 1927).attr('text-anchor', 'middle').attr('font-family', SANS).attr('font-size', 19).attr('fill', '#1c2b39').text(t);
    });
    svg.append('text').attr('x', 3).attr('y', 1946).attr('font-family', SANS).attr('font-size', 8).attr('fill', '#3a3a3a').text('ES 06-26 ES 06-26 30000 Tick');
    svg.append('text').attr('x', 3073).attr('y', 1948).attr('text-anchor', 'end').attr('font-family', SANS).attr('font-weight', 'bold').attr('font-size', 14).attr('fill', '#e8421e').text('NINJATRADER');
  }, []);

  return <svg ref={ref} width={WIDTH} height={HEIGHT} style={{ display: 'block' }} />;
};

export default App;
